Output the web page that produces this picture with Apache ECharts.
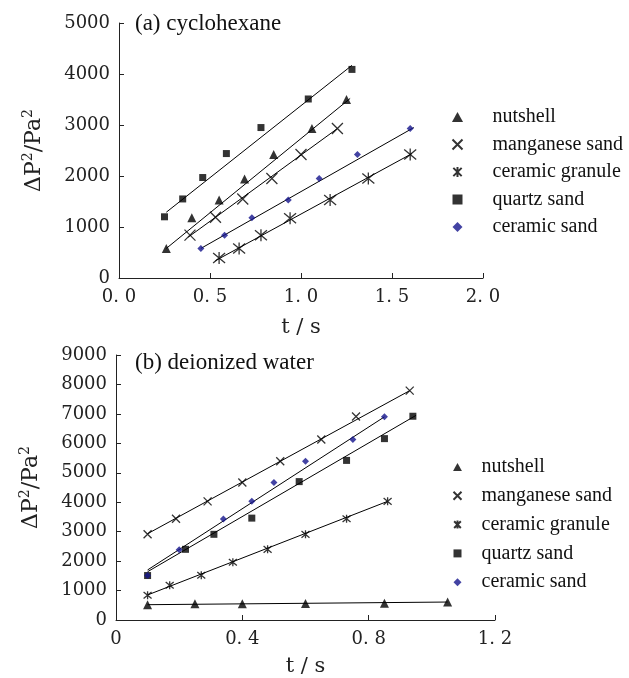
<!DOCTYPE html>
<html>
<head>
  <meta charset="UTF-8">
  <title>pressure drop vs time</title>
  <style>
    html, body {
      margin: 0;
      padding: 0;
      background: #fff;
    }

    #main {
      width: 629px;
      height: 678px;
    }
  </style>
  <script src="https://cdn.jsdelivr.net/npm/echarts@6/dist/echarts.min.js"></script>
</head>

<body>
<div id="main"></div>

<script type="text/javascript">
  const names = ['nutshell', 'manganese sand', 'ceramic granule', 'quartz sand', 'ceramic sand'];

  // (a) cyclohexane
  const aNutT = [0.26, 0.40, 0.55, 0.69, 0.85, 1.06, 1.25];
  const aNutV = [580, 1180, 1530, 1940, 2420, 2930, 3500];
  const aMnT = [0.39, 0.53, 0.68, 0.84, 1.00, 1.20];
  const aMnV = [840, 1190, 1550, 1950, 2420, 2930];
  const aGrT = [0.55, 0.66, 0.78, 0.94, 1.16, 1.37, 1.60];
  const aGrV = [390, 580, 840, 1170, 1530, 1950, 2420];
  const aQzT = [0.25, 0.35, 0.46, 0.59, 0.78, 1.04, 1.28];
  const aQzV = [1200, 1550, 1970, 2440, 2950, 3510, 4090];
  const aCsT = [0.45, 0.58, 0.73, 0.93, 1.10, 1.31, 1.60];
  const aCsV = [580, 840, 1180, 1530, 1950, 2420, 2930];
  // fitted lines, end points
  const aFit = [
    [[0.26, 580], [1.27, 3520]],
    [[0.38, 800], [1.20, 2930]],
    [[0.53, 340], [1.61, 2440]],
    [[0.26, 1290], [1.28, 4170]],
    [[0.45, 580], [1.62, 2950]]
  ];

  // (b) deionized water
  const bNutT = [0.10, 0.25, 0.40, 0.60, 0.85, 1.05];
  const bNutV = [520, 550, 550, 560, 570, 610];
  const bMnT = [0.10, 0.19, 0.29, 0.40, 0.52, 0.65, 0.76, 0.93];
  const bMnV = [2910, 3440, 4030, 4670, 5390, 6130, 6910, 7790];
  const bGrT = [0.10, 0.17, 0.27, 0.37, 0.48, 0.60, 0.73, 0.86];
  const bGrV = [840, 1180, 1520, 1960, 2400, 2910, 3440, 4030];
  const bQzT = [0.10, 0.22, 0.31, 0.43, 0.58, 0.73, 0.85, 0.94];
  const bQzV = [1510, 2400, 2910, 3460, 4700, 5420, 6160, 6920];
  const bCsT = [0.10, 0.20, 0.34, 0.43, 0.50, 0.60, 0.75, 0.85];
  const bCsV = [1510, 2390, 3430, 4030, 4670, 5390, 6130, 6900];
  const bFit = [
    [[0.10, 520], [1.05, 610]],
    [[0.10, 2930], [0.93, 7790]],
    [[0.10, 850], [0.86, 4030]],
    [[0.10, 1640], [0.95, 6950]],
    [[0.10, 1700], [0.85, 6900]]
  ];

  const symbols = [
    'path://M5,0L10,9L0,9Z',
    'path://M0,0L10,10M10,0L0,10',
    'path://M0,0L10,10M10,0L0,10M5,-1L5,11',
    'path://M0,0L10,0L10,10L0,10Z',
    'path://M5,0L10,5L5,10L0,5Z'
  ];
  const stroked = [false, true, true, false, false];
  const fills = ['#000', '#000', '#000', '#000', '#14148c'];
  const sizeA = [9, 11, 12, 7, 7];
  const sizeB = [9, 8, 8, 7, 7];

  const serif = '"Liberation Serif", "Times New Roman", serif';
  const tickFont = '"DejaVu Serif", serif';

  function pairs(ts, vs) {
    return ts.map(function (t, i) {
      return [t, vs[i]];
    });
  }

  const ptsA = [pairs(aNutT, aNutV), pairs(aMnT, aMnV), pairs(aGrT, aGrV), pairs(aQzT, aQzV), pairs(aCsT, aCsV)];
  const ptsB = [pairs(bNutT, bNutV), pairs(bMnT, bMnV), pairs(bGrT, bGrV), pairs(bQzT, bQzV), pairs(bCsT, bCsV)];

  function itemStyleFor(i) {
    if (stroked[i]) {
      return {color: 'none', borderColor: '#000', borderWidth: 1.3};
    }
    return {color: fills[i], borderWidth: 0};
  }

  const series = [];
  [[aFit, 0], [bFit, 1]].forEach(function (f) {
    f[0].forEach(function (line, i) {
      series.push({
        name: 'fit' + f[1] + i,
        type: 'line',
        xAxisIndex: f[1],
        yAxisIndex: f[1],
        data: line,
        symbol: 'none',
        silent: true,
        lineStyle: {color: '#000', width: 1},
        z: 2
      });
    });
  });
  [[ptsA, sizeA, 0], [ptsB, sizeB, 1]].forEach(function (p) {
    p[0].forEach(function (pts, i) {
      series.push({
        name: names[i],
        type: 'scatter',
        xAxisIndex: p[2],
        yAxisIndex: p[2],
        data: pts,
        symbol: symbols[i],
        symbolSize: p[1][i],
        itemStyle: itemStyleFor(i),
        z: 3
      });
    });
  });

  const yName = '{a|ΔP}{s|2}{a|/Pa}{s|2}';
  const yNameStyle = {
    color: '#222',
    rich: {
      a: {fontFamily: tickFont, fontSize: 22, lineHeight: 26, color: '#222'},
      s: {fontFamily: tickFont, fontSize: 14, lineHeight: 26, verticalAlign: 'top', color: '#222'}
    }
  };

  function axisCommon() {
    return {
      axisLine: {lineStyle: {color: '#222', width: 1}},
      axisTick: {inside: true, length: 5, lineStyle: {color: '#222'}},
      splitLine: {show: false},
      axisLabel: {fontFamily: tickFont, fontSize: 18, color: '#222'}
    };
  }

  function plain(v) {
    return String(v);
  }

  const xa = axisCommon();
  const xb = axisCommon();
  const ya = axisCommon();
  const yb = axisCommon();

  // the legend box starts at the drawn icon, not at the itemWidth box
  function legendFor(left, top, w, h, gap) {
    return {
      data: names,
      orient: 'vertical',
      left: left,
      top: top,
      itemWidth: w,
      itemHeight: h,
      itemGap: gap,
      padding: 0,
      symbolKeepAspect: true,
      selectedMode: false,
      formatter: '{t|{name}}',
      textStyle: {
        fontFamily: serif,
        fontSize: 20,
        color: '#111',
        rich: {
          t: {fontFamily: serif, fontSize: 20, lineHeight: 20, color: '#111'}
        }
      }
    };
  }

  const option = {
    animation: false,
    backgroundColor: '#fff',
    textStyle: {fontFamily: serif},
    title: [{
      text: '(a) cyclohexane',
      left: 135,
      top: 12,
      padding: 0,
      textStyle: {fontFamily: serif, fontSize: 23, fontWeight: 'normal', color: '#111'}
    }, {
      text: '(b) deionized water',
      left: 135,
      top: 351,
      padding: 0,
      textStyle: {fontFamily: serif, fontSize: 23, fontWeight: 'normal', color: '#111'}
    }],
    legend: [
      legendFor(450, 107, 60, 10, 7.5),
      legendFor(451, 457, 38, 8, 8.8)
    ],
    grid: [
      {left: 119, top: 23, width: 364, height: 255},
      {left: 116, top: 355, width: 379, height: 267}
    ],
    xAxis: [Object.assign(xa, {
      type: 'value',
      gridIndex: 0,
      min: 0,
      max: 2,
      interval: 0.5,
      name: 't / s',
      nameLocation: 'middle',
      nameGap: 39,
      nameTextStyle: {fontFamily: tickFont, fontSize: 21, color: '#222'},
      axisLabel: Object.assign(xa.axisLabel, {
        margin: 10,
        formatter: function (v) {
          return v.toFixed(1).replace('.', '. ');
        }
      })
    }), Object.assign(xb, {
      type: 'value',
      gridIndex: 1,
      min: 0,
      max: 1.2,
      interval: 0.4,
      name: 't / s',
      nameLocation: 'middle',
      nameGap: 36,
      nameTextStyle: {fontFamily: tickFont, fontSize: 21, color: '#222'},
      axisLabel: Object.assign(xb.axisLabel, {
        margin: 10,
        formatter: function (v) {
          return v === 0 ? '0' : v.toFixed(1).replace('.', '. ');
        }
      })
    })],
    yAxis: [Object.assign(ya, {
      type: 'value',
      gridIndex: 0,
      min: 0,
      max: 5000,
      interval: 1000,
      name: yName,
      nameLocation: 'middle',
      nameGap: 72,
      nameTextStyle: yNameStyle,
      axisLabel: Object.assign(ya.axisLabel, {margin: 9, formatter: plain})
    }), Object.assign(yb, {
      type: 'value',
      gridIndex: 1,
      min: 0,
      max: 9000,
      interval: 1000,
      name: yName,
      nameLocation: 'middle',
      nameGap: 72,
      nameTextStyle: yNameStyle,
      axisLabel: Object.assign(yb.axisLabel, {margin: 9, formatter: plain})
    })],
    series: series
  };

  const myChart = echarts.init(document.getElementById('main'));
  myChart.setOption(option);
</script>
</body>
</html>
